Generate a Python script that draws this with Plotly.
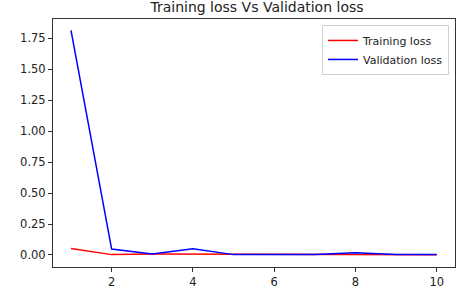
import plotly.graph_objects as go

epochs = [1, 2, 3, 4, 5, 6, 7, 8, 9, 10]
training_loss = [0.052, 0.003, 0.008, 0.008, 0.003, 0.002, 0.002, 0.004, 0.002, 0.002]
validation_loss = [1.815, 0.048, 0.008, 0.050, 0.003, 0.002, 0.003, 0.019, 0.003, 0.003]
y_ticks = [0.0, 0.25, 0.5, 0.75, 1.0, 1.25, 1.5, 1.75]
x_ticks = [2, 4, 6, 8, 10]

fig = go.Figure()
fig.add_trace(go.Scatter(x=epochs, y=training_loss, mode="lines", name="Training loss",
                         line=dict(color="#ff0000", width=1.5)))
fig.add_trace(go.Scatter(x=epochs, y=validation_loss, mode="lines", name="Validation loss",
                         line=dict(color="#0000ff", width=1.5)))

axis_common = dict(showgrid=False, zeroline=False, showline=True, linecolor="#333",
                   linewidth=1, mirror=True, ticks="outside", ticklen=4, tickwidth=1,
                   tickcolor="#333", tickfont=dict(family="DejaVu Sans", size=11.5, color="#222"))

fig.update_layout(
    width=458, height=289,
    margin=dict(l=53, r=3, t=19, b=22),
    paper_bgcolor="white", plot_bgcolor="white",
    title=dict(text="Training loss Vs Validation loss", x=257/458, xanchor="center",
               y=1 - 7.5/289, yanchor="middle",
               font=dict(family="DejaVu Sans", size=14, color="#222")),
    xaxis=dict(range=[0.557, 10.45], tickvals=x_ticks, automargin=False, **axis_common),
    yaxis=dict(range=[-0.097, 1.906], tickvals=y_ticks, tickformat=".2f", automargin=False,
               **axis_common),
    legend=dict(x=0.985, y=0.976, xanchor="right", yanchor="top",
                bgcolor="rgba(255,255,255,0.8)", bordercolor="#d0d0d0", borderwidth=1,
                font=dict(family="DejaVu Sans", size=11, color="#222"),
                tracegroupgap=0, itemwidth=30),
    showlegend=True,
)

fig.write_html("out.html", config={"displayModeBar": False},
               post_script="document.body.style.margin='0';document.body.style.padding='0';")
